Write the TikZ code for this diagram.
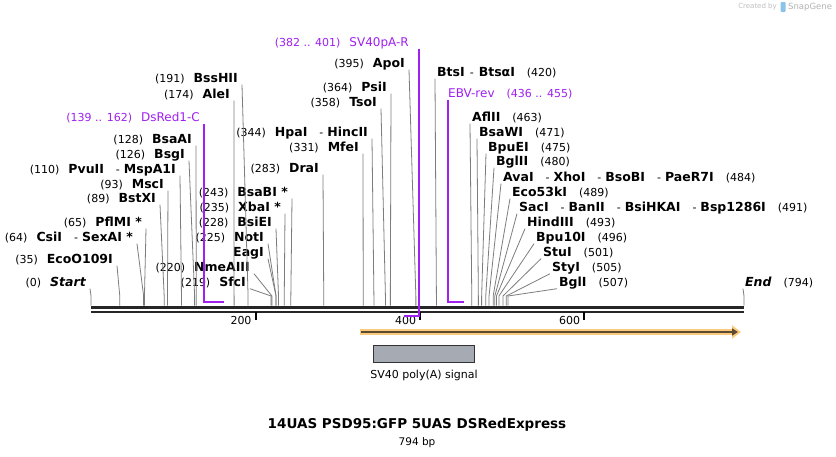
\documentclass[tikz,border=0pt]{standalone}
\usepackage{fontspec}
\setmainfont{DejaVu Sans}
\usepackage{xcolor}
\usetikzlibrary{positioning,arrows.meta}
\definecolor{primerpurple}{RGB}{160,32,240}
\definecolor{sitegray}{RGB}{125,125,125}
\definecolor{featorange}{RGB}{252,202,125}
\definecolor{featcore}{RGB}{90,75,50}
\definecolor{polyagray}{RGB}{166,171,179}
\definecolor{logoblue}{RGB}{140,195,235}
\newcommand{\enz}[1]{{\fontsize{12.5}{14}\selectfont\bfseries #1}}
\newcommand{\gp}{\hspace{9pt}}
\newcommand{\dsh}{\hspace{12pt}-\hspace{4pt}}

\begin{document}
\begin{tikzpicture}[x=1pt, y=-1pt,
    every node/.style={font=\fontsize{11}{13}\selectfont},
    lbl/.style={inner ysep=0pt, text height=11pt, text depth=2pt},
    lblL/.style={lbl, anchor=east, inner xsep=4pt},
    lblR/.style={lbl, anchor=west, inner xsep=2pt},
    cut/.style={draw=sitegray, line width=0.8pt},
    primer/.style={draw=primerpurple, line width=1.6pt},
    prlbl/.style={text=primerpurple},
    tickmark/.style={line width=2pt}
]
\fill[white] (0,0) rectangle (836,456);
\useasboundingbox (0,0) rectangle (836,456);

% cut sites on the backbone
\foreach \p in {0,35,64,65,89,93,110,126,128,174,191,219,220,225,228,235,243,283,331,344,358,364,395,420,463,471,475,480,484,489,491,493,496,501,505,507,794}
    \coordinate (s\p) at ({91+0.8224*\p},305.5);
\coordinate (knee) at (0,296);

% left group
\node[lblL] (bsshii) at (242,78) {(191)\gp\enz{BssHII}};
\node[lblL] (alei) at (234,94) {(174)\gp\enz{AleI}};
\node[lblL, prlbl] (dsred) at (204,117) {(139 .. 162)\gp{\fontsize{12}{14}\selectfont DsRed1-C}};
\node[lblL] (bsaai) at (196,139) {(128)\gp\enz{BsaAI}};
\node[lblL] (bsgi) at (189,154) {(126)\gp\enz{BsgI}};
\node[lblL] (pvuii) at (180,169) {(110)\gp\enz{PvuII}\dsh\enz{MspA1I}};
\node[lblL] (msci) at (168,184) {(93)\gp\enz{MscI}};
\node[lblL] (bstxi) at (160,198) {(89)\gp\enz{BstXI}};
\node[lblL] (pflmi) at (146,222) {(65)\gp\enz{PflMI *}};
\node[lblL] (csii) at (137,237) {(64)\gp\enz{CsiI}\dsh\enz{SexAI *}};
\node[lblL] (ecoo109i) at (117,259) {(35)\gp\enz{EcoO109I}};
\node[lblL] (start) at (90,282) {(0)\gp\enz{\itshape Start}};

% middle group
\node[lblL] (bsabi) at (292,192) {(243)\gp\enz{BsaBI *}};
\node[lblL] (xbai) at (285,207) {(235)\gp\enz{XbaI *}};
\node[lblL] (bsiei) at (276,222) {(228)\gp\enz{BsiEI}};
\node[lblL] (noti) at (268,237) {(225)\gp\enz{NotI}};
\node[lblL] (eagi) at (268,252) {\enz{EagI}};
\node[lblL] (nmeaiii) at (254,267) {(220)\gp\enz{NmeAIII}};
\node[lblL] (sfci) at (250,282) {(219)\gp\enz{SfcI}};
\node[lblL] (drai) at (323,168) {(283)\gp\enz{DraI}};
\node[lblL] (mfei) at (363,147) {(331)\gp\enz{MfeI}};
\node[lblL] (hpai) at (372,132) {(344)\gp\enz{HpaI}\dsh\enz{HincII}};
\node[lblL] (tsoi) at (381,102) {(358)\gp\enz{TsoI}};
\node[lblL] (psii) at (391,87) {(364)\gp\enz{PsiI}};
\node[lblL] (apoi) at (409,63) {(395)\gp\enz{ApoI}};
\node[lblL, prlbl] (sv40r) at (413,42) {(382 .. 401)\gp{\fontsize{12}{14}\selectfont SV40pA-R}};

% right group
\node[lblR] (btsi) at (435,72) {\enz{BtsI}\hspace{5pt}-\hspace{5pt}\enz{BtsαI}\hspace{12pt}(420)};
\node[lblR, prlbl] (ebv) at (446,93) {{\fontsize{12}{14}\selectfont EBV-rev}\hspace{12pt}(436 .. 455)};
\node[lblR] (aflii) at (470,117) {\enz{AflII}\hspace{12pt}(463)};
\node[lblR] (bsawi) at (477,132) {\enz{BsaWI}\hspace{12pt}(471)};
\node[lblR] (bpuei) at (486,147) {\enz{BpuEI}\hspace{12pt}(475)};
\node[lblR] (bglii) at (494,161) {\enz{BglII}\hspace{12pt}(480)};
\node[lblR] (avai) at (501,177) {\enz{AvaI}\dsh\enz{XhoI}\dsh\enz{BsoBI}\dsh\enz{PaeR7I}\hspace{12pt}(484)};
\node[lblR] (eco53ki) at (510,192) {\enz{Eco53kI}\hspace{12pt}(489)};
\node[lblR] (saci) at (517,207) {\enz{SacI}\dsh\enz{BanII}\dsh\enz{BsiHKAI}\dsh\enz{Bsp1286I}\hspace{12pt}(491)};
\node[lblR] (hindiii) at (525,222) {\enz{HindIII}\hspace{12pt}(493)};
\node[lblR] (bpu10i) at (534,237) {\enz{Bpu10I}\hspace{12pt}(496)};
\node[lblR] (stui) at (541,252) {\enz{StuI}\hspace{12pt}(501)};
\node[lblR] (styi) at (550,267) {\enz{StyI}\hspace{12pt}(505)};
\node[lblR] (bgli) at (557,282) {\enz{BglI}\hspace{12pt}(507)};
\node[lblR] (endlbl) at (743,282) {\enz{\itshape End}\hspace{12pt}(794)};

% site lines
\draw[cut] (bsshii.south east) -- (s191 |- knee) -- (s191);
\draw[cut] (alei.south east) -- (s174 |- knee) -- (s174);
\draw[cut] (bsaai.south east) -- (s128 |- knee) -- (s128);
\draw[cut] (bsgi.south east) -- (s126 |- knee) -- (s126);
\draw[cut] (pvuii.south east) -- (s110 |- knee) -- (s110);
\draw[cut] (msci.south east) -- (s93 |- knee) -- (s93);
\draw[cut] (bstxi.south east) -- (s89 |- knee) -- (s89);
\draw[cut] (pflmi.south east) -- (s65 |- knee) -- (s65);
\draw[cut] (csii.south east) -- (s64 |- knee) -- (s64);
\draw[cut] (ecoo109i.south east) -- (s35 |- knee) -- (s35);
\draw[cut] (start.south east) -- (s0 |- knee) -- (s0);
\draw[cut] (bsabi.south east) -- (s243 |- knee) -- (s243);
\draw[cut] (xbai.south east) -- (s235 |- knee) -- (s235);
\draw[cut] (bsiei.south east) -- (s228 |- knee) -- (s228);
\draw[cut] (noti.south east) -- (s225 |- knee) -- (s225);
\draw[cut] (eagi.south east) -- (s225 |- knee) -- (s225);
\draw[cut] (nmeaiii.south east) -- (s220 |- knee) -- (s220);
\draw[cut] (sfci.south east) -- (s219 |- knee) -- (s219);
\draw[cut] (drai.south east) -- (s283 |- knee) -- (s283);
\draw[cut] (mfei.south east) -- (s331 |- knee) -- (s331);
\draw[cut] (hpai.south east) -- (s344 |- knee) -- (s344);
\draw[cut] (tsoi.south east) -- (s358 |- knee) -- (s358);
\draw[cut] (psii.south east) -- (s364 |- knee) -- (s364);
\draw[cut] (apoi.south east) -- (s395 |- knee) -- (s395);
\draw[cut] (btsi.south west) -- (s420 |- knee) -- (s420);
\draw[cut] (aflii.south west) -- (s463 |- knee) -- (s463);
\draw[cut] (bsawi.south west) -- (s471 |- knee) -- (s471);
\draw[cut] (bpuei.south west) -- (s475 |- knee) -- (s475);
\draw[cut] (bglii.south west) -- (s480 |- knee) -- (s480);
\draw[cut] (avai.south west) -- (s484 |- knee) -- (s484);
\draw[cut] (eco53ki.south west) -- (s489 |- knee) -- (s489);
\draw[cut] (saci.south west) -- (s491 |- knee) -- (s491);
\draw[cut] (hindiii.south west) -- (s493 |- knee) -- (s493);
\draw[cut] (bpu10i.south west) -- (s496 |- knee) -- (s496);
\draw[cut] (stui.south west) -- (s501 |- knee) -- (s501);
\draw[cut] (styi.south west) -- (s505 |- knee) -- (s505);
\draw[cut] (bgli.south west) -- (s507 |- knee) -- (s507);
\draw[cut] (endlbl.south west) -- (s794 |- knee) -- (s794);

% backbone
\coordinate (bbL) at (91,307);
\coordinate (bbR) at (744,307);
\draw[line width=3pt, black!85] (bbL) -- (bbR);
\draw[line width=2pt, black!85] ([yshift=-4.7pt]bbL) -- ([yshift=-4.7pt]bbR);
\foreach \t/\x in {200/255.5,400/420,600/584}
    \draw[tickmark] (\x,312) -- (\x,320) node[anchor=east, inner xsep=3pt, inner ysep=0pt] (tick\t) {\t};

% primers
\coordinate (ds0) at (204,302);
\coordinate (ds1) at (223.5,302);
\draw[primer] (dsred.south east -| ds0) -- (ds0) -- (ds1);
\coordinate (sv0) at (404,316);
\coordinate (sv1) at (419,316);
\draw[primer] (sv40r.south -| sv1) -- (sv1) -- (sv0);
\coordinate (ebv0) at (448,302);
\coordinate (ebv1) at (463.5,302);
\draw[primer] (ebv.south west -| ebv0) -- (ebv0) -- (ebv1);

% feature
\coordinate (fa) at (360,332);
\coordinate (fb) at (741,332);
\draw[featorange, line width=6pt, -{Triangle[length=9pt,width=13pt]}] (fa) -- (fb);
\draw[featcore, line width=2.5pt, -{Triangle[length=6pt,width=7pt]}] ([xshift=1pt]fa) -- ([xshift=-3pt]fb);

\node[draw=black!80, fill=polyagray, minimum width=101pt, minimum height=17pt, inner sep=0pt] (polya) at (424,353.5) {};
\node[below=4pt of polya] (polyalbl) {SV40 poly(A) signal};

% title
\node[font=\fontsize{13.5}{15}\selectfont\bfseries] (title) at (417,425) {14UAS PSD95:GFP 5UAS DSRedExpress};
\node[below=-1pt of title, font=\fontsize{10.5}{12}\selectfont] (bp) {794 bp};

% credit
\node[anchor=east, text=black!25, font=\fontsize{7}{9}\selectfont, inner sep=1pt] (credit) at (778,7) {Created by};
\fill[logoblue, rounded corners=1pt] (780.5,2) rectangle (785.5,12);
\node[anchor=west, text=black!30, font=\fontsize{8.5}{10}\selectfont, inner sep=1pt] (sgname) at (787,7) {SnapGene};
\end{tikzpicture}
\end{document}
